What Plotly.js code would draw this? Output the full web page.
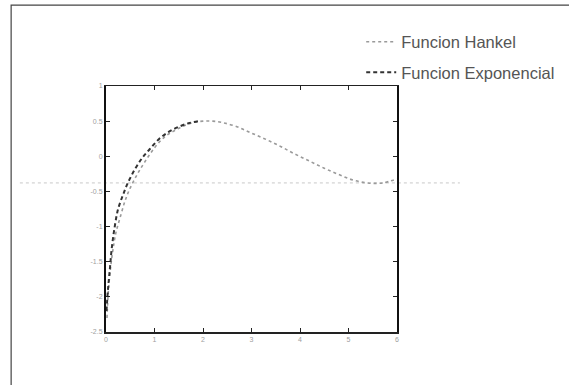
<!DOCTYPE html>
<html>
<head>
<meta charset="utf-8">
<script src="https://cdn.plot.ly/plotly-3.0.1.min.js"></script>
<style>html,body{margin:0;padding:0;background:#fff;}#chart{width:569px;height:385px;}</style>
</head>
<body>
<div id="chart"></div>
<script>
const hankelX = [0.02,0.05,0.1,0.15,0.2,0.3,0.4,0.5,0.65,0.8,1.0,1.2,1.4,1.6,1.8,2.0,2.2,2.4,2.7,3.0,3.3,3.6,3.9,4.2,4.5,4.8,5.1,5.4,5.7,6.0];
const hankelY = [-2.3,-1.9,-1.55,-1.3,-1.1,-0.85,-0.62,-0.45,-0.25,-0.08,0.12,0.27,0.36,0.43,0.48,0.5,0.5,0.48,0.42,0.33,0.24,0.14,0.03,-0.07,-0.17,-0.26,-0.34,-0.38,-0.38,-0.32];
const expX = [0.01,0.04,0.08,0.12,0.18,0.25,0.35,0.45,0.6,0.75,0.9,1.1,1.3,1.5,1.7,1.9];
const expY = [-2.2,-1.9,-1.6,-1.3,-1.0,-0.75,-0.55,-0.38,-0.18,-0.02,0.1,0.25,0.35,0.42,0.47,0.5];
const xTicks = [0,1,2,3,4,5,6];
const yTicks = [1,0.5,0,-0.5,-1,-1.5,-2,-2.5];
const seriesNames = ["Funcion Hankel","Funcion Exponencial"];

const traces = [
  {x: hankelX, y: hankelY, name: seriesNames[0], mode: 'lines', line: {color: '#9a9a9a', width: 1.6, dash: 'dot', shape: 'spline'}, legendgroup: 'a'},
  {x: expX, y: expY, name: seriesNames[1], mode: 'lines', line: {color: '#333333', width: 2, dash: '4px,3px', shape: 'spline'}, legendgroup: 'b'}
];

const tickFont = {family: 'Liberation Sans, Arial, sans-serif', size: 7, color: '#a0a0a0'};
const layout = {
  width: 569, height: 385,
  margin: {l: 106, r: 172, t: 86, b: 53, autoexpand: false},
  paper_bgcolor: '#ffffff', plot_bgcolor: '#ffffff',
  showlegend: true,
  legend: {x: 0.877, y: 1.25, xanchor: 'left', yanchor: 'top', bgcolor: 'rgba(0,0,0,0)',
           font: {family: 'Liberation Sans, Arial, sans-serif', size: 16.5, color: '#555'},
           tracegroupgap: 6, itemwidth: 30},
  xaxis: {range: [0, 6], tickvals: xTicks, ticktext: xTicks.map(String), showgrid: false, zeroline: false,
          showline: true, linecolor: '#222', linewidth: 1.5, mirror: 'ticks', ticks: 'inside', ticklen: 4,
          tickcolor: '#222', tickfont: tickFont},
  yaxis: {range: [-2.5, 1], tickvals: yTicks, ticktext: yTicks.map(String), showgrid: false, zeroline: false,
          showline: true, linecolor: '#111', linewidth: 2, mirror: 'ticks', ticks: 'inside', ticklen: 4,
          tickcolor: '#222', tickfont: tickFont},
  shapes: [
    {type: 'rect', xref: 'paper', yref: 'paper', x0: -0.326, x1: 1.62, y0: -0.24, y1: 1.329,
     line: {color: '#444', width: 1.2}},
    {type: 'line', xref: 'paper', yref: 'paper', x0: -0.296, x1: 1.216, y0: 0.606, y1: 0.606,
     line: {color: '#c8c8c8', width: 1, dash: 'dot'}, layer: 'below'}
  ]
};
Plotly.newPlot('chart', traces, layout, {displayModeBar: false, staticPlot: true});
</script>
</body>
</html>
